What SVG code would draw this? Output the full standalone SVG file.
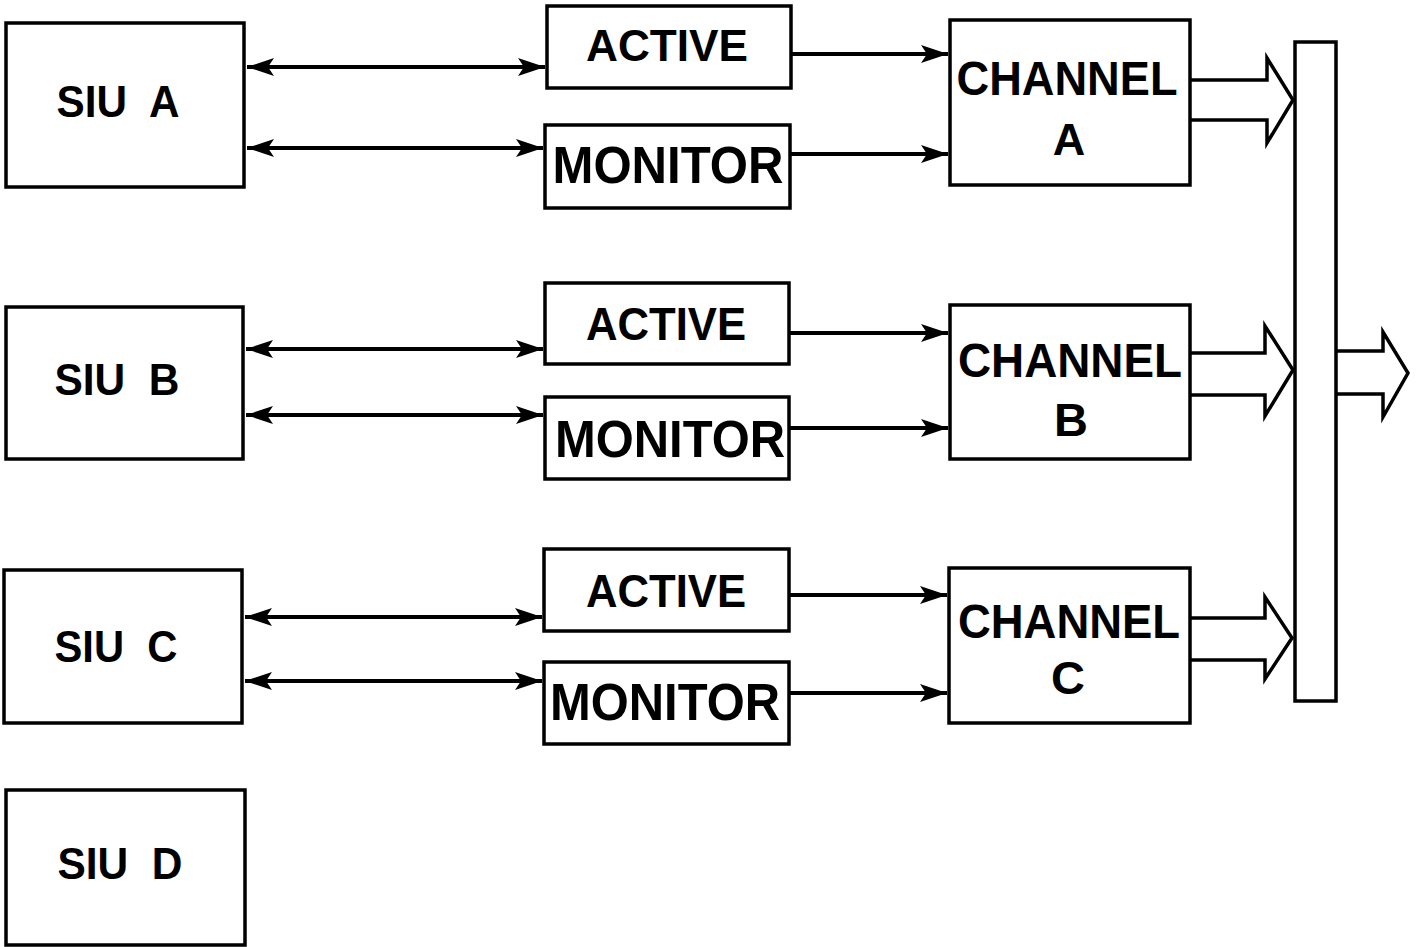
<svg xmlns="http://www.w3.org/2000/svg" width="1416" height="947" viewBox="0 0 1416 947">
<style>
.box{fill:#fff;stroke:#000;stroke-width:3.5}
.t{font-family:"Liberation Sans",Arial,sans-serif;font-weight:bold;fill:#000;text-anchor:middle;white-space:pre}
.ln{stroke:#000;stroke-width:4;fill:none}
.hol{fill:none;stroke:#000;stroke-width:3.5;stroke-linejoin:miter}
</style>
<defs>
<marker id="ah" markerUnits="userSpaceOnUse" markerWidth="32" markerHeight="22" viewBox="-30 -11 32 22" refX="0" refY="0" orient="auto-start-reverse">
<path d="M0,0 L-27,-9 L-21,0 L-27,9 z" fill="#000"/>
</marker>
</defs>
<rect width="1416" height="947" fill="#fff"/>
<g id="siu-a"><rect class="box" x="6" y="23" width="238" height="164"/><text class="t" x="118" y="117" font-size="44" textLength="123" lengthAdjust="spacingAndGlyphs" xml:space="preserve">SIU  A</text></g>
<g id="siu-b"><rect class="box" x="6" y="307" width="237" height="152"/><text class="t" x="117" y="395" font-size="44" textLength="125" lengthAdjust="spacingAndGlyphs" xml:space="preserve">SIU  B</text></g>
<g id="siu-c"><rect class="box" x="4" y="570" width="238" height="153"/><text class="t" x="116" y="662" font-size="44" textLength="123" lengthAdjust="spacingAndGlyphs" xml:space="preserve">SIU  C</text></g>
<g id="siu-d"><rect class="box" x="6" y="790" width="239" height="155"/><text class="t" x="120" y="879" font-size="44" textLength="125" lengthAdjust="spacingAndGlyphs" xml:space="preserve">SIU  D</text></g>

<g id="active-a"><rect class="box" x="547" y="6" width="244" height="82"/><text class="t" x="667" y="61" font-size="45" textLength="162" lengthAdjust="spacingAndGlyphs">ACTIVE</text></g>
<g id="monitor-a"><rect class="box" x="545" y="125" width="245" height="83"/><text class="t" x="668" y="183" font-size="51" textLength="231" lengthAdjust="spacingAndGlyphs">MONITOR</text></g>
<g id="active-b"><rect class="box" x="545" y="283" width="244" height="81"/><text class="t" x="666" y="340" font-size="47" textLength="160" lengthAdjust="spacingAndGlyphs">ACTIVE</text></g>
<g id="monitor-b"><rect class="box" x="545" y="397" width="244" height="82"/><text class="t" x="670" y="457" font-size="51" textLength="230" lengthAdjust="spacingAndGlyphs">MONITOR</text></g>
<g id="active-c"><rect class="box" x="544" y="549" width="245" height="82"/><text class="t" x="666" y="607" font-size="47" textLength="160" lengthAdjust="spacingAndGlyphs">ACTIVE</text></g>
<g id="monitor-c"><rect class="box" x="544" y="662" width="245" height="82"/><text class="t" x="665" y="720" font-size="51" textLength="230" lengthAdjust="spacingAndGlyphs">MONITOR</text></g>

<g id="channel-a"><rect class="box" x="950" y="20" width="240" height="165"/><text class="t" x="1067" y="95" font-size="48" textLength="221" lengthAdjust="spacingAndGlyphs">CHANNEL</text><text class="t" x="1069" y="155" font-size="45">A</text></g>
<g id="channel-b"><rect class="box" x="950" y="305" width="240" height="154"/><text class="t" x="1070" y="377" font-size="49" textLength="224" lengthAdjust="spacingAndGlyphs">CHANNEL</text><text class="t" x="1071" y="436" font-size="47">B</text></g>
<g id="channel-c"><rect class="box" x="949" y="568" width="241" height="155"/><text class="t" x="1069" y="638" font-size="48" textLength="222" lengthAdjust="spacingAndGlyphs">CHANNEL</text><text class="t" x="1068" y="694" font-size="47">C</text></g>

<g id="bus"><rect class="box" x="1295" y="42" width="41" height="659"/></g>

<g id="connectors">
<line class="ln" x1="247" y1="67" x2="545" y2="67" marker-start="url(#ah)" marker-end="url(#ah)"/>
<line class="ln" x1="247" y1="148" x2="543" y2="148" marker-start="url(#ah)" marker-end="url(#ah)"/>
<line class="ln" x1="246" y1="349" x2="543" y2="349" marker-start="url(#ah)" marker-end="url(#ah)"/>
<line class="ln" x1="246" y1="415" x2="543" y2="415" marker-start="url(#ah)" marker-end="url(#ah)"/>
<line class="ln" x1="245" y1="617" x2="542" y2="617" marker-start="url(#ah)" marker-end="url(#ah)"/>
<line class="ln" x1="245" y1="681" x2="542" y2="681" marker-start="url(#ah)" marker-end="url(#ah)"/>

<line class="ln" x1="791" y1="54" x2="948" y2="54" marker-end="url(#ah)"/>
<line class="ln" x1="790" y1="154" x2="948" y2="154" marker-end="url(#ah)"/>
<line class="ln" x1="789" y1="333" x2="948" y2="333" marker-end="url(#ah)"/>
<line class="ln" x1="789" y1="428" x2="948" y2="428" marker-end="url(#ah)"/>
<line class="ln" x1="789" y1="595" x2="947" y2="595" marker-end="url(#ah)"/>
<line class="ln" x1="789" y1="693" x2="947" y2="693" marker-end="url(#ah)"/>

<path class="hol" d="M1190,80 L1267,80 L1267,58 L1293,100 L1267,143 L1267,120 L1190,120"/>
<path class="hol" d="M1190,353 L1265,353 L1265,326 L1293,370 L1265,416 L1265,395 L1190,395"/>
<path class="hol" d="M1190,618 L1265,618 L1265,597 L1292,638 L1265,679 L1265,660 L1190,660"/>
<path class="hol" d="M1336,351 L1383,351 L1383,332 L1408,373 L1383,417 L1383,394 L1336,394"/>
</g>
</svg>
